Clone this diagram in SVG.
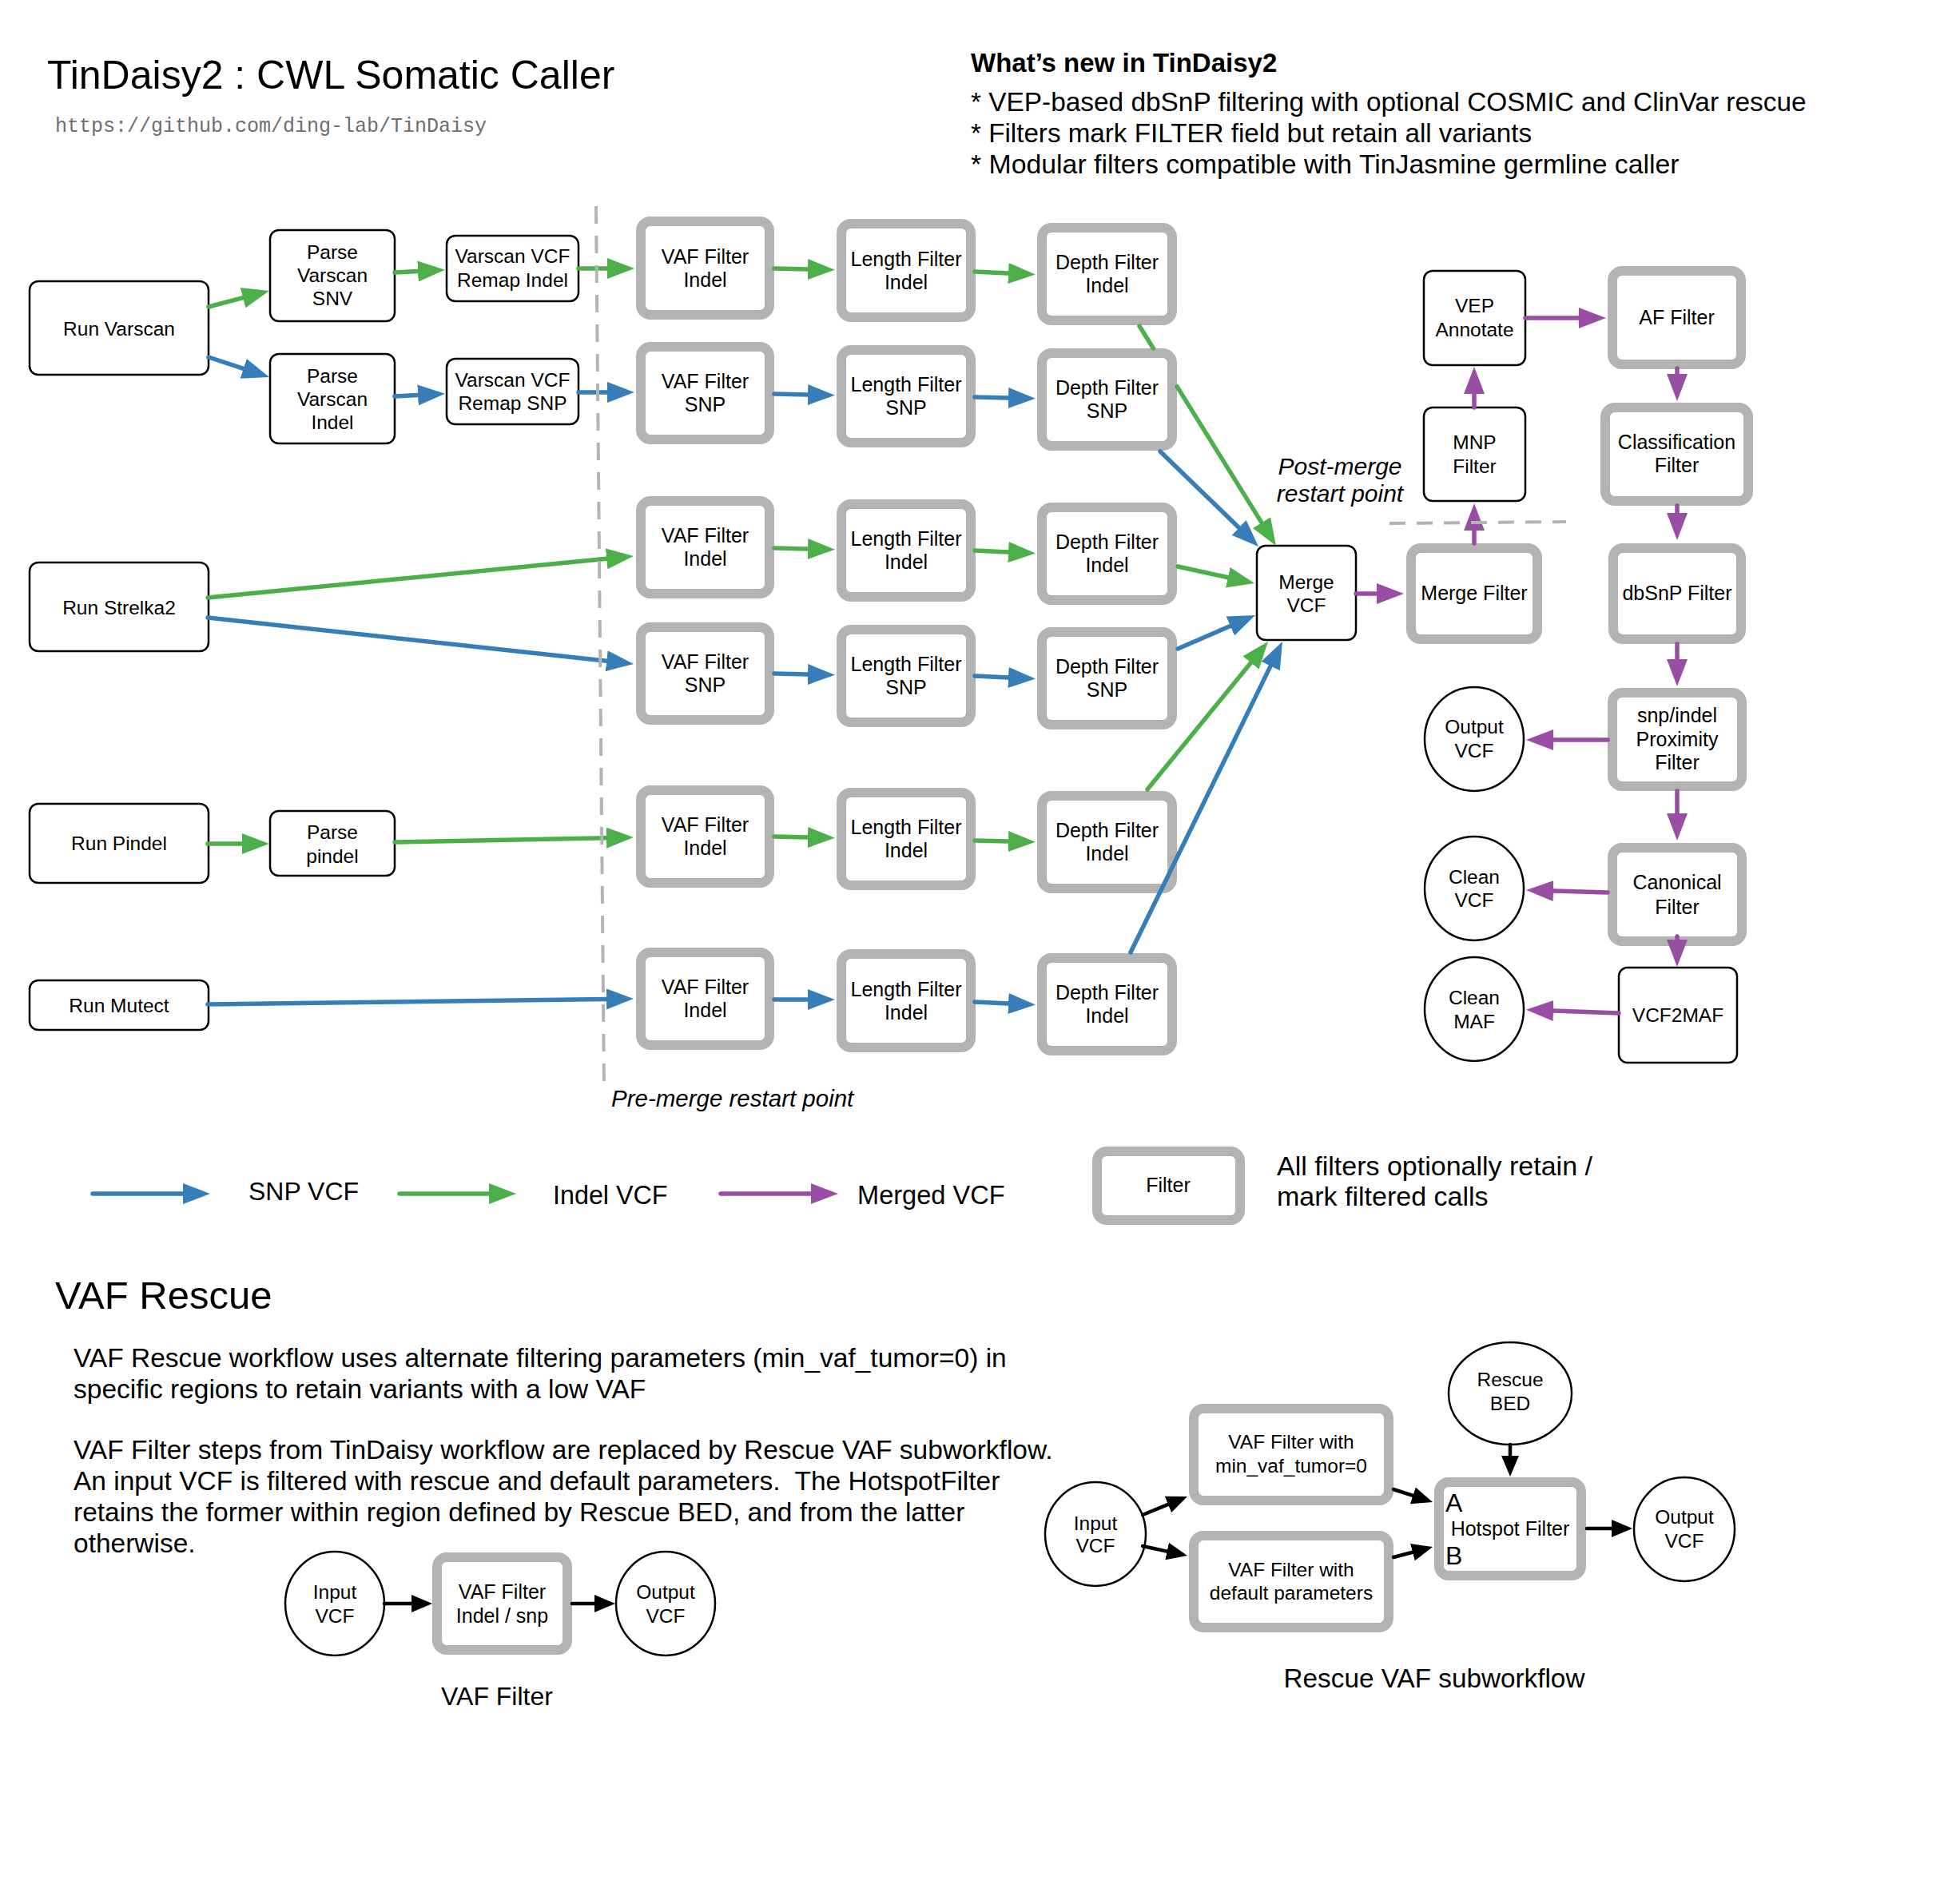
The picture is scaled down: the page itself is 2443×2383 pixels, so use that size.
<svg xmlns="http://www.w3.org/2000/svg" width="2443" height="2383" viewBox="0 0 2443 2383">
<defs>
<style>
text{font-family:"Liberation Sans",Arial,Helvetica,sans-serif;fill:#000}
.box{fill:#fff;stroke:#000;stroke-width:2.5}
.flt{fill:#fff;stroke:#b3b3b3;stroke-width:12}
.ell{fill:#fff;stroke:#000;stroke-width:2.5}
.n{font-size:24.5px;text-anchor:middle}
.nf{font-size:25px;text-anchor:middle}
.g{stroke:#4daf4a;stroke-width:5.5;fill:none;stroke-linecap:round;marker-end:url(#mg)}
.b{stroke:#377eb8;stroke-width:5.5;fill:none;stroke-linecap:round;marker-end:url(#mb)}
.p{stroke:#984ea3;stroke-width:5.5;fill:none;stroke-linecap:round;marker-end:url(#mp)}
.k{stroke:#000;stroke-width:4.5;fill:none;stroke-linecap:round;marker-end:url(#mk)}
.dash{stroke:#b3b3b3;stroke-width:4;fill:none;stroke-dasharray:22 15}
.para{font-size:33.5px}
</style>
<marker id="mg" markerUnits="userSpaceOnUse" markerWidth="40" markerHeight="30" viewBox="0 -15 40 30" refX="0" refY="0" orient="auto"><path d="M0,-13 L34,0 L0,13 z" fill="#4daf4a"/></marker>
<marker id="mb" markerUnits="userSpaceOnUse" markerWidth="40" markerHeight="30" viewBox="0 -15 40 30" refX="0" refY="0" orient="auto"><path d="M0,-13 L34,0 L0,13 z" fill="#377eb8"/></marker>
<marker id="mp" markerUnits="userSpaceOnUse" markerWidth="40" markerHeight="30" viewBox="0 -15 40 30" refX="0" refY="0" orient="auto"><path d="M0,-13 L34,0 L0,13 z" fill="#984ea3"/></marker>
<marker id="mk" markerUnits="userSpaceOnUse" markerWidth="30" markerHeight="26" viewBox="0 -13 30 26" refX="0" refY="0" orient="auto"><path d="M0,-11 L26,0 L0,11 z" fill="#000"/></marker>
</defs>
<rect width="2443" height="2383" fill="#fff"/>

<!-- Header texts -->
<text x="59" y="111" font-size="50">TinDaisy2 : CWL Somatic Caller</text>
<text x="69" y="165" font-size="25" fill="#6e6e6e" style="font-family:'Liberation Mono','Courier New',monospace;fill:#6e6e6e">https://github.com/ding-lab/TinDaisy</text>
<text x="1215" y="90" font-size="33" font-weight="bold">What’s new in TinDaisy2</text>
<text x="1215" y="139" font-size="33.4">* VEP-based dbSnP filtering with optional COSMIC and ClinVar rescue</text>
<text x="1215" y="178" font-size="33.2">* Filters mark FILTER field but retain all variants</text>
<text x="1215" y="217" font-size="33.8">* Modular filters compatible with TinJasmine germline caller</text>

<!-- Nodes -->
<g id="run_varscan"><rect class="box" x="37" y="352" width="224" height="117" rx="11"/><text class="n" x="149" y="420">Run Varscan</text></g>
<g id="parse_varscan_snv"><rect class="box" x="338" y="288" width="156" height="114" rx="11"/><text class="n" x="416" y="324">Parse</text><text class="n" x="416" y="353">Varscan</text><text class="n" x="416" y="382">SNV</text></g>
<g id="parse_varscan_indel"><rect class="box" x="338" y="443" width="156" height="112" rx="11"/><text class="n" x="416" y="479">Parse</text><text class="n" x="416" y="508">Varscan</text><text class="n" x="416" y="537">Indel</text></g>
<g id="remap_indel"><rect class="box" x="559" y="295" width="165" height="82" rx="11"/><text class="n" x="641.5" y="329">Varscan VCF</text><text class="n" x="641.5" y="359">Remap Indel</text></g>
<g id="remap_snp"><rect class="box" x="559" y="449" width="165" height="82" rx="11"/><text class="n" x="641.5" y="484">Varscan VCF</text><text class="n" x="641.5" y="513">Remap SNP</text></g>
<g id="run_strelka2"><rect class="box" x="37" y="704" width="224" height="111" rx="11"/><text class="n" x="149" y="769">Run Strelka2</text></g>
<g id="run_pindel"><rect class="box" x="37" y="1006" width="224" height="99" rx="11"/><text class="n" x="149" y="1064">Run Pindel</text></g>
<g id="parse_pindel"><rect class="box" x="338" y="1015" width="156" height="81" rx="11"/><text class="n" x="416" y="1050">Parse</text><text class="n" x="416" y="1080">pindel</text></g>
<g id="run_mutect"><rect class="box" x="37" y="1227" width="224" height="62" rx="11"/><text class="n" x="149" y="1267">Run Mutect</text></g>

<g id="vaf_indel_1"><rect class="flt" x="802" y="277" width="161" height="117" rx="12"/><text class="nf" x="882.5" y="330">VAF Filter</text><text class="nf" x="882.5" y="359">Indel</text></g>
<g id="len_indel_1"><rect class="flt" x="1053" y="280" width="162" height="117" rx="12"/><text class="nf" x="1134" y="333">Length Filter</text><text class="nf" x="1134" y="362">Indel</text></g>
<g id="dep_indel_1"><rect class="flt" x="1304" y="285" width="163" height="116" rx="12"/><text class="nf" x="1385.5" y="337">Depth Filter</text><text class="nf" x="1385.5" y="366">Indel</text></g>

<g id="vaf_snp_2"><rect class="flt" x="802" y="434" width="161" height="116" rx="12"/><text class="nf" x="882.5" y="486">VAF Filter</text><text class="nf" x="882.5" y="515">SNP</text></g>
<g id="len_snp_2"><rect class="flt" x="1053" y="438" width="162" height="116" rx="12"/><text class="nf" x="1134" y="490">Length Filter</text><text class="nf" x="1134" y="519">SNP</text></g>
<g id="dep_snp_2"><rect class="flt" x="1304" y="442" width="163" height="116" rx="12"/><text class="nf" x="1385.5" y="494">Depth Filter</text><text class="nf" x="1385.5" y="523">SNP</text></g>

<g id="vaf_indel_3"><rect class="flt" x="802" y="627" width="161" height="116" rx="12"/><text class="nf" x="882.5" y="679">VAF Filter</text><text class="nf" x="882.5" y="708">Indel</text></g>
<g id="len_indel_3"><rect class="flt" x="1053" y="631" width="162" height="116" rx="12"/><text class="nf" x="1134" y="683">Length Filter</text><text class="nf" x="1134" y="712">Indel</text></g>
<g id="dep_indel_3"><rect class="flt" x="1304" y="635" width="163" height="116" rx="12"/><text class="nf" x="1385.5" y="687">Depth Filter</text><text class="nf" x="1385.5" y="716">Indel</text></g>

<g id="vaf_snp_4"><rect class="flt" x="802" y="785" width="161" height="116" rx="12"/><text class="nf" x="882.5" y="837">VAF Filter</text><text class="nf" x="882.5" y="866">SNP</text></g>
<g id="len_snp_4"><rect class="flt" x="1053" y="788" width="162" height="116" rx="12"/><text class="nf" x="1134" y="840">Length Filter</text><text class="nf" x="1134" y="869">SNP</text></g>
<g id="dep_snp_4"><rect class="flt" x="1304" y="791" width="163" height="116" rx="12"/><text class="nf" x="1385.5" y="843">Depth Filter</text><text class="nf" x="1385.5" y="872">SNP</text></g>

<g id="vaf_indel_5"><rect class="flt" x="802" y="989" width="161" height="116" rx="12"/><text class="nf" x="882.5" y="1041">VAF Filter</text><text class="nf" x="882.5" y="1070">Indel</text></g>
<g id="len_indel_5"><rect class="flt" x="1053" y="992" width="162" height="116" rx="12"/><text class="nf" x="1134" y="1044">Length Filter</text><text class="nf" x="1134" y="1073">Indel</text></g>
<g id="dep_indel_5"><rect class="flt" x="1304" y="996" width="163" height="116" rx="12"/><text class="nf" x="1385.5" y="1048">Depth Filter</text><text class="nf" x="1385.5" y="1077">Indel</text></g>

<g id="vaf_indel_6"><rect class="flt" x="802" y="1192" width="161" height="116" rx="12"/><text class="nf" x="882.5" y="1244">VAF Filter</text><text class="nf" x="882.5" y="1273">Indel</text></g>
<g id="len_indel_6"><rect class="flt" x="1053" y="1194" width="162" height="117" rx="12"/><text class="nf" x="1134" y="1247">Length Filter</text><text class="nf" x="1134" y="1276">Indel</text></g>
<g id="dep_indel_6"><rect class="flt" x="1304" y="1199" width="163" height="116" rx="12"/><text class="nf" x="1385.5" y="1251">Depth Filter</text><text class="nf" x="1385.5" y="1280">Indel</text></g>

<g id="merge_vcf"><rect class="box" x="1573" y="683" width="124" height="118" rx="11"/><text class="n" x="1635" y="737">Merge</text><text class="n" x="1635" y="766">VCF</text></g>
<g id="merge_filter"><rect class="flt" x="1766" y="686" width="158" height="114" rx="12"/><text class="nf" x="1845" y="751">Merge Filter</text></g>
<g id="mnp_filter"><rect class="box" x="1782" y="510" width="127" height="117" rx="11"/><text class="n" x="1845.5" y="562">MNP</text><text class="n" x="1845.5" y="592">Filter</text></g>
<g id="vep_annotate"><rect class="box" x="1782" y="339" width="127" height="118" rx="11"/><text class="n" x="1845.5" y="391">VEP</text><text class="n" x="1845.5" y="421">Annotate</text></g>
<g id="af_filter"><rect class="flt" x="2018" y="339" width="161" height="117" rx="12"/><text class="nf" x="2098.5" y="406">AF Filter</text></g>
<g id="classification_filter"><rect class="flt" x="2009" y="510" width="179" height="117" rx="12"/><text class="nf" x="2098.5" y="562">Classification</text><text class="nf" x="2098.5" y="591">Filter</text></g>
<g id="dbsnp_filter"><rect class="flt" x="2019" y="686" width="160" height="114" rx="12"/><text class="nf" x="2099" y="751">dbSnP Filter</text></g>
<g id="proximity_filter"><rect class="flt" x="2018" y="867" width="162" height="117" rx="12"/><text class="nf" x="2099" y="904">snp/indel</text><text class="nf" x="2099" y="934">Proximity</text><text class="nf" x="2099" y="963">Filter</text></g>
<g id="canonical_filter"><rect class="flt" x="2018" y="1061" width="162" height="117" rx="12"/><text class="nf" x="2099" y="1113">Canonical</text><text class="nf" x="2099" y="1144">Filter</text></g>
<g id="vcf2maf"><rect class="box" x="2026" y="1211" width="148" height="119" rx="11"/><text class="n" x="2100" y="1279">VCF2MAF</text></g>
<g id="output_vcf"><ellipse class="ell" cx="1845" cy="925" rx="62" ry="65"/><text class="n" x="1845" y="918">Output</text><text class="n" x="1845" y="948">VCF</text></g>
<g id="clean_vcf"><ellipse class="ell" cx="1845" cy="1112" rx="62" ry="65"/><text class="n" x="1845" y="1106">Clean</text><text class="n" x="1845" y="1135">VCF</text></g>
<g id="clean_maf"><ellipse class="ell" cx="1845" cy="1263" rx="62" ry="65"/><text class="n" x="1845" y="1257">Clean</text><text class="n" x="1845" y="1287">MAF</text></g>

<!-- Legend -->
<g id="legend_filter"><rect class="flt" x="1373" y="1441" width="179" height="86" rx="12"/><text class="nf" x="1462" y="1492">Filter</text></g>
<text x="311" y="1502" font-size="32">SNP VCF</text>
<text x="692" y="1507" font-size="32.3">Indel VCF</text>
<text x="1073" y="1507" font-size="32.6">Merged VCF</text>
<text x="1598" y="1471" font-size="34">All filters optionally retain /</text>
<text x="1598" y="1509" font-size="34">mark filtered calls</text>

<!-- VAF Rescue section -->
<text x="69" y="1638" font-size="49">VAF Rescue</text>
<text class="para" x="92" y="1711">VAF Rescue workflow uses alternate filtering parameters (min_vaf_tumor=0) in</text>
<text class="para" x="92" y="1750">specific regions to retain variants with a low VAF</text>
<text class="para" x="92" y="1826">VAF Filter steps from TinDaisy workflow are replaced by Rescue VAF subworkflow.</text>
<text class="para" x="92" y="1865" xml:space="preserve">An input VCF is filtered with rescue and default parameters.  The HotspotFilter</text>
<text class="para" x="92" y="1904">retains the former within region defined by Rescue BED, and from the latter</text>
<text class="para" x="92" y="1943">otherwise.</text>

<g id="vf_input_vcf"><ellipse class="ell" cx="419" cy="2007" rx="62" ry="65"/><text class="n" x="419" y="2001">Input</text><text class="n" x="419" y="2031">VCF</text></g>
<g id="vf_vaf_filter"><rect class="flt" x="547" y="1949" width="163" height="116" rx="12"/><text class="nf" x="628.5" y="2001">VAF Filter</text><text class="nf" x="628.5" y="2031">Indel / snp</text></g>
<g id="vf_output_vcf"><ellipse class="ell" cx="833" cy="2007" rx="62" ry="65"/><text class="n" x="833" y="2001">Output</text><text class="n" x="833" y="2031">VCF</text></g>
<text x="622" y="2134" font-size="32" text-anchor="middle">VAF Filter</text>

<g id="rv_input_vcf"><ellipse class="ell" cx="1371" cy="1920" rx="63" ry="65"/><text class="n" x="1371" y="1915">Input</text><text class="n" x="1371" y="1943">VCF</text></g>
<g id="rv_vaf_min"><rect class="flt" x="1494" y="1763" width="244" height="115" rx="12"/><text class="n" x="1616" y="1813">VAF Filter with</text><text class="n" x="1616" y="1843">min_vaf_tumor=0</text></g>
<g id="rv_vaf_default"><rect class="flt" x="1494" y="1922" width="244" height="115" rx="12"/><text class="n" x="1616" y="1973">VAF Filter with</text><text class="n" x="1616" y="2002">default parameters</text></g>
<g id="rv_rescue_bed"><ellipse class="ell" cx="1890" cy="1744" rx="77" ry="64"/><text class="n" x="1890" y="1735">Rescue</text><text class="n" x="1890" y="1765">BED</text></g>
<g id="rv_hotspot"><rect class="flt" x="1801" y="1855" width="178" height="117" rx="12"/><text x="1809" y="1892" font-size="32">A</text><text class="nf" x="1890" y="1922">Hotspot Filter</text><text x="1809" y="1958" font-size="32">B</text></g>
<g id="rv_output_vcf"><ellipse class="ell" cx="2108" cy="1914" rx="63" ry="65"/><text class="n" x="2108" y="1907">Output</text><text class="n" x="2108" y="1937">VCF</text></g>
<text x="1795" y="2112" font-size="33.3" text-anchor="middle">Rescue VAF subworkflow</text>

<!-- Connectors -->
<g id="connectors">
<path class="g" d="M261,384 L304.1,372.6"/>
<path class="b" d="M261,447 L304.7,461.4"/>
<path class="g" d="M494,341 L523,339.5"/>
<path class="b" d="M494,496 L523,494.5"/>
<path class="g" d="M724,336 L760,336"/>
<path class="b" d="M724,491 L760,491"/>
<path class="g" d="M969,336 L1011,337"/>
<path class="g" d="M1220,340 L1262,342"/>
<path class="b" d="M969,493 L1011,494"/>
<path class="b" d="M1220,497 L1262,498"/>
<path class="g" d="M260,748 L759.2,699.3"/>
<path class="b" d="M260,773 L759.2,827.3"/>
<path class="g" d="M969,686 L1011,687"/>
<path class="g" d="M1220,689 L1262,691"/>
<path class="b" d="M969,843 L1011,844"/>
<path class="b" d="M1220,846 L1262,848"/>
<path class="g" d="M260,1056 L303,1056"/>
<path class="g" d="M494,1054 L759,1048.7"/>
<path class="g" d="M969,1047 L1011,1048"/>
<path class="g" d="M1220,1052 L1262,1053"/>
<path class="b" d="M260,1257 L759,1250.4"/>
<path class="b" d="M969,1251 L1011,1251"/>
<path class="b" d="M1220,1254 L1262,1256"/>
<path class="g" d="M1426,408 L1443.4,436 M1473,483.6 L1579,654.1"/>
<path class="b" d="M1452,565 L1550.6,660.4"/>
<path class="g" d="M1474,709 L1536.8,722.7"/>
<path class="b" d="M1474,812 L1539.8,783.5"/>
<path class="g" d="M1436,988 L1565.5,829.4"/>
<path class="b" d="M1415,1192 L1590.1,833.6"/>
<path class="p" d="M1697,743 L1723,743"/>
<path class="p" d="M1845,680 L1845,664"/>
<path class="p" d="M1845,510 L1845,493"/>
<path class="p" d="M1909,398 L1976,398"/>
<path class="p" d="M2099,461 L2099,468"/>
<path class="p" d="M2099,633 L2099,642"/>
<path class="p" d="M2099,806 L2099,825"/>
<path class="p" d="M2012,926 L1944,926"/>
<path class="p" d="M2099,990 L2099,1018"/>
<path class="p" d="M2012,1117 L1944,1115"/>
<path class="p" d="M2099,1172 L2099,1176"/>
<path class="p" d="M2026,1268 L1944,1265"/>
<path class="b" d="M116,1494 L229,1494"/>
<path class="g" d="M500,1494 L612,1494"/>
<path class="p" d="M902,1494 L1015,1494"/>
<path class="k" d="M481,2007 L515,2007"/>
<path class="k" d="M716,2007 L744,2007"/>
<path class="k" d="M1430,1896 L1461.9,1882.9"/>
<path class="k" d="M1430,1935 L1460.6,1941.6"/>
<path class="k" d="M1744,1864 L1768.3,1871.9"/>
<path class="k" d="M1744,1949 L1767.9,1942.7"/>
<path class="k" d="M1890,1808 L1890,1822"/>
<path class="k" d="M1986,1913 L2017,1913"/>
</g>

<!-- Restart lines -->
<path class="dash" d="M746,258 L756,1360"/>
<path class="dash" d="M1739,655 L1960,653" style="stroke-dasharray:20 14"/>
<text x="1677" y="594" font-size="30" font-style="italic" text-anchor="middle">Post-merge</text>
<text x="1677" y="628" font-size="30" font-style="italic" text-anchor="middle">restart point</text>
<text x="765" y="1385" font-size="29.5" font-style="italic">Pre-merge restart point</text>
</svg>
